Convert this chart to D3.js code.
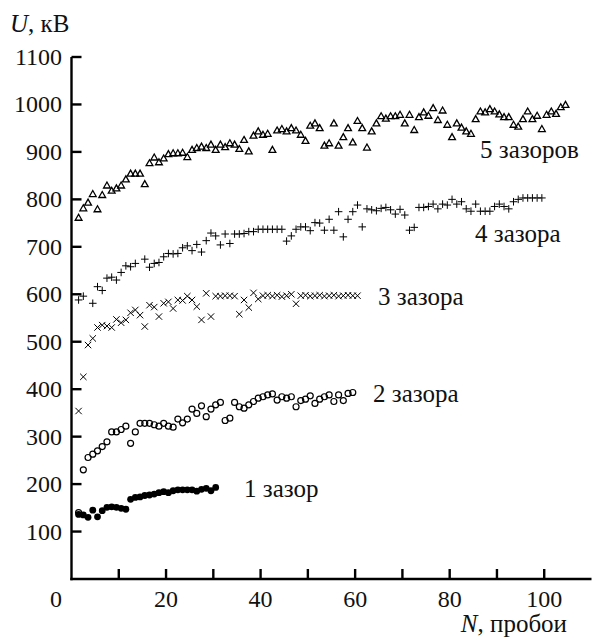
<!DOCTYPE html>
<html><head><meta charset="utf-8">
<script src="https://cdn.jsdelivr.net/npm/d3@7"></script>
<style>
html,body{margin:0;padding:0;background:#fff;}
</style></head>
<body><svg id="c" width="593" height="641"></svg>
<script>
// N of the first point of every series, and step between points (one breakdown)
const firstN = 1.5;
// series values, U in kV (null = no point)
const s1 = [136,135,130,145,131,144,151,152,151,149,147,168,172,173,176,177,179,182,184,182,186,188,188,188,188,185,189,191,186,193];
const s2 = [140,230,256,263,270,279,289,310,310,315,322,286,310,328,328,328,325,322,328,322,320,337,329,337,358,349,365,342,358,367,372,334,339,372,363,360,367,374,381,384,388,390,377,384,381,384,363,376,379,386,370,379,384,388,374,388,376,391,393];
const s3 = [354,426,493,507,530,535,533,530,547,540,546,561,567,556,532,577,573,553,581,584,570,588,587,596,588,574,546,602,553,596,596,597,597,596,558,588,572,603,590,597,598,596,598,595,597,600,580,597,598,596,597,598,596,597,598,596,597,598,597,597];
const s4 = [588,596,null,581,616,608,634,636,630,646,660,658,665,null,674,657,665,667,679,686,685,686,698,702,692,705,689,713,729,723,704,727,707,727,727,728,732,732,737,737,737,737,737,737,712,723,737,742,742,734,751,750,735,758,735,774,721,758,774,788,742,780,778,776,781,783,778,769,779,767,735,741,783,783,785,790,780,790,788,800,790,795,780,775,790,775,775,775,785,790,785,780,795,800,803,803,803,803,803];
const s5 = [761,781,793,811,779,809,829,818,823,829,842,854,854,854,832,876,888,878,886,895,897,897,898,889,904,908,911,908,915,904,915,910,918,915,906,925,901,934,943,936,938,904,945,948,943,950,945,936,923,955,960,950,913,918,960,913,931,950,920,965,950,909,943,960,975,970,975,975,978,960,978,946,973,983,976,992,967,987,957,931,960,951,943,938,969,985,983,990,985,979,973,973,957,953,969,985,969,976,948,978,985,980,994,999];
const seriesLabels = ["1 зазор","2 зазора","3 зазора","4 зазора","5 зазоров"];
const yTicks = [100,200,300,400,500,600,700,800,900,1000,1100];
const xTicks = [10,20,30,40,50,60,70,80,90,100];
const xTickLabels = [20,40,60,80,100];

// pick an installed serif face
function pickFont(){
  const cands = ["Liberation Serif","Times New Roman","Tinos","DejaVu Serif","Noto Serif","FreeSerif","Nimbus Roman","Nimbus Roman No9 L","Times","Georgia"];
  const cv = document.createElement("canvas").getContext("2d");
  const sample = "1100 зазоров пробои WMiil";
  const base = {};
  ["monospace","sans-serif"].forEach(b=>{cv.font="40px "+b; base[b]=cv.measureText(sample).width;});
  for(const f of cands){
    let ok=false;
    for(const b of ["monospace","sans-serif"]){
      cv.font=`40px "${f}", ${b}`;
      if(Math.abs(cv.measureText(sample).width-base[b])>0.5){ok=true;}
    }
    if(ok) return `"${f}", serif`;
  }
  return "serif";
}
const FONT = pickFont();

const svg = d3.select("#c").attr("font-family",FONT);
const x = d3.scaleLinear().domain([0,110]).range([71.5,591.5]);
const y = d3.scaleLinear().domain([0,1100]).range([579,57]);

function pts(vals){ return vals.map((v,i)=>({n:firstN+i,u:v})).filter(d=>d.u!==null); }

// axes
const ax = svg.append("g");
ax.append("line").attr("x1",x(0)).attr("x2",x(0)).attr("y1",y(0)+1.2).attr("y2",y(1100)).attr("stroke","#000").attr("stroke-width",2.4);
ax.append("line").attr("x1",x(0)-1.2).attr("x2",x(110)).attr("y1",y(0)).attr("y2",y(0)).attr("stroke","#000").attr("stroke-width",2.4);
ax.selectAll(".yt").data(yTicks).enter().append("line").attr("x1",x(0)).attr("x2",x(0)+10).attr("y1",d=>y(d)).attr("y2",d=>y(d)).attr("stroke","#000").attr("stroke-width",2.4);
ax.selectAll(".xt").data(xTicks).enter().append("line").attr("x1",d=>x(d)).attr("x2",d=>x(d)).attr("y1",y(0)).attr("y2",y(0)-10).attr("stroke","#000").attr("stroke-width",2.4);
ax.selectAll(".yl").data(yTicks).enter().append("text").attr("x",62).attr("y",d=>y(d)+8).attr("text-anchor","end").attr("font-size",24).attr("fill","#111").text(d=>d);
ax.selectAll(".xl").data(xTickLabels).enter().append("text").attr("x",d=>x(d)).attr("y",607).attr("text-anchor","middle").attr("font-size",24).attr("fill","#111").text(d=>d);
ax.append("text").attr("x",56).attr("y",607).attr("text-anchor","middle").attr("font-size",24).attr("fill","#111").text("0");
const yt = ax.append("text").attr("x",10).attr("y",32).attr("font-size",25).attr("fill","#111");
yt.append("tspan").attr("font-style","italic").text("U");
yt.append("tspan").text(", кВ");
const xt = ax.append("text").attr("x",567).attr("y",632).attr("text-anchor","end").attr("font-size",25).attr("fill","#111");
xt.append("tspan").attr("font-style","italic").text("N");
xt.append("tspan").text(", пробои");

// series labels
const labelPos = [[244,497],[373,402],[378,305],[475,242],[480,158]];
svg.selectAll(".sl").data(seriesLabels).enter().append("text")
  .attr("x",(d,i)=>labelPos[i][0]).attr("y",(d,i)=>labelPos[i][1]).attr("font-size",25).attr("fill","#111").text(d=>d);

// series 1: filled circles
svg.append("g").selectAll("circle").data(pts(s1)).enter().append("circle")
  .attr("cx",d=>x(d.n)).attr("cy",d=>y(d.u)).attr("r",3.4).attr("fill","#000");
// series 2: open circles
svg.append("g").selectAll("circle").data(pts(s2)).enter().append("circle")
  .attr("cx",d=>x(d.n)).attr("cy",d=>y(d.u)).attr("r",3).attr("fill","none").attr("stroke","#000").attr("stroke-width",1.2);
// series 3: crosses x
svg.append("g").selectAll("path").data(pts(s3)).enter().append("path")
  .attr("d",d=>{const cx=x(d.n),cy=y(d.u),s=3.2;return `M${cx-s},${cy-s}L${cx+s},${cy+s}M${cx-s},${cy+s}L${cx+s},${cy-s}`;})
  .attr("stroke","#000").attr("stroke-width",1).attr("fill","none");
// series 4: plus
svg.append("g").selectAll("path").data(pts(s4)).enter().append("path")
  .attr("d",d=>{const cx=x(d.n),cy=y(d.u),s=3.8;return `M${cx-s},${cy}L${cx+s},${cy}M${cx},${cy-s}L${cx},${cy+s}`;})
  .attr("stroke","#000").attr("stroke-width",1).attr("fill","none");
// series 5: open triangles
svg.append("g").selectAll("path").data(pts(s5)).enter().append("path")
  .attr("d",d=>{const cx=x(d.n),cy=y(d.u);return `M${cx},${cy-3.6}L${cx+3.4},${cy+2.4}L${cx-3.4},${cy+2.4}Z`;})
  .attr("stroke","#000").attr("stroke-width",1.3).attr("fill","none");
</script></body></html>
